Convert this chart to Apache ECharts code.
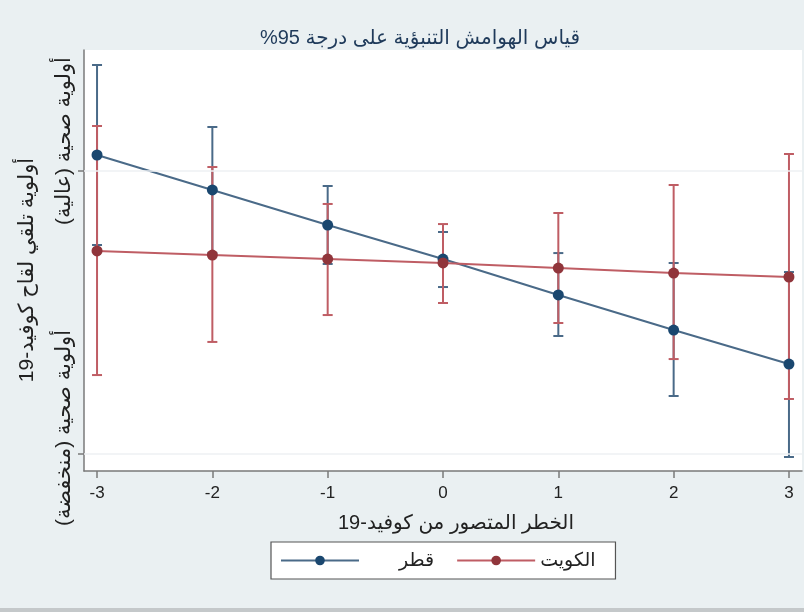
<!DOCTYPE html>
<html>
<head>
<meta charset="utf-8">
<script src="https://cdn.jsdelivr.net/npm/echarts@6/dist/echarts.min.js"></script>
<style>
  html, body { margin: 0; padding: 0; background: #eaf0f2; }
  #chart { width: 804px; height: 612px; }
</style>
</head>
<body>
<div id="chart"></div>
<script>
// الخطر المتصور من كوفيد-19
var riskLevels = [-3, -2, -1, 0, 1, 2, 3];
var xTicks = [-3, -2, -1, 0, 1, 2, 3];
var yTicks = [1, 3];

// قطر
var qatarMean = [3.113, 2.866, 2.618, 2.378, 2.124, 1.876, 1.636];
var qatarLow  = [2.477, 2.420, 2.343, 2.180, 1.834, 1.410, 0.979];
var qatarHigh = [3.749, 3.311, 2.894, 2.569, 2.420, 2.350, 2.286];

// الكويت
var kuwaitMean = [2.435, 2.406, 2.378, 2.350, 2.314, 2.279, 2.251];
var kuwaitLow  = [1.558, 1.792, 1.982, 2.067, 1.926, 1.671, 1.389];
var kuwaitHigh = [3.318, 3.028, 2.767, 2.625, 2.703, 2.901, 3.120];

var navy = '#1a476f', navyLine = '#4a6a88';
var maroon = '#90353b', maroonLine = '#bf5d64';
var font = 'Liberation Sans, DejaVu Sans, sans-serif';

function pairs(xs, ys) {
    return xs.map(function(x, i) { return [x, ys[i]]; });
}
function bars(xs, lo, hi) {
    return xs.map(function(x, i) { return [x, lo[i], hi[i]]; });
}
function errorBar(color) {
    return function(params, api) {
        var x = api.value(0);
        var p1 = api.coord([x, api.value(1)]);
        var p2 = api.coord([x, api.value(2)]);
        var w = 5;
        var st = {stroke: color, lineWidth: 2};
        return {
            type: 'group',
            children: [
                {type: 'line', shape: {x1: p1[0], y1: p1[1], x2: p2[0], y2: p2[1]}, style: st},
                {type: 'line', shape: {x1: p1[0] - w, y1: p1[1], x2: p1[0] + w, y2: p1[1]}, style: st},
                {type: 'line', shape: {x1: p2[0] - w, y1: p2[1], x2: p2[0] + w, y2: p2[1]}, style: st}
            ]
        };
    };
}

var myChart = echarts.init(document.getElementById('chart'));
myChart.setOption({
    backgroundColor: '#eaf0f2',
    animation: false,
    title: {
        // علامة RLM في النهاية حتى تظهر %95 في اليسار
        text: 'قياس الهوامش التنبؤية على درجة 95%\u200F',
        left: 415,
        textAlign: 'center',
        top: 23,
        textStyle: {fontFamily: font, fontSize: 20, fontWeight: 'normal', color: '#1f3a5a'}
    },
    grid: {
        left: 84, right: 2, top: 50, bottom: 141,
        show: true, backgroundColor: '#ffffff', borderWidth: 0
    },
    legend: {
        left: 271,
        top: 542,
        orient: 'horizontal',
        backgroundColor: '#ffffff',
        borderColor: '#555555',
        borderWidth: 1.2,
        borderRadius: 0,
        padding: [9, 20, 9, 9],
        itemWidth: 78,
        itemHeight: 12,
        itemGap: 22,
        textStyle: {fontFamily: font, fontSize: 19, color: '#222'},
        data: [
            {name: 'قطر', textStyle: {padding: [0, 0, 0, 35]}},
            {name: 'الكويت'}
        ]
    },
    xAxis: {
        type: 'value',
        min: -3.113,
        max: 3.113,
        name: 'الخطر المتصور من كوفيد-19',
        nameLocation: 'middle',
        nameGap: 42,
        nameTextStyle: {fontFamily: font, fontSize: 20, color: '#222', padding: [0, 0, 0, 26]},
        axisLine: {show: true, onZero: false, lineStyle: {color: '#7a7a7a', width: 1.5}},
        axisTick: {show: true, length: 7, customValues: xTicks, lineStyle: {color: '#7a7a7a', width: 1.5}},
        axisLabel: {customValues: xTicks, margin: 14, fontFamily: font, fontSize: 17, color: '#222'},
        splitLine: {show: false}
    },
    yAxis: {
        type: 'value',
        min: 0.88,
        max: 3.855,
        axisLine: {show: true, onZero: false, lineStyle: {color: '#7a7a7a', width: 1.5}},
        axisTick: {show: true, length: 6, customValues: yTicks, lineStyle: {color: '#7a7a7a', width: 1.5}},
        axisLabel: {show: false},
        splitLine: {show: false}
    },
    graphic: [
        {
            type: 'text', x: 27, y: 270, rotation: Math.PI / 2,
            style: {text: 'أولوية تلقي لقاح كوفيد-19', fontFamily: font, fontSize: 21, fill: '#222',
                    align: 'center', verticalAlign: 'middle'}
        },
        {
            type: 'text', x: 64, y: 141, rotation: Math.PI / 2,
            style: {text: 'أولوية صحية (عالية)', fontFamily: font, fontSize: 21, fill: '#222',
                    align: 'center', verticalAlign: 'middle'}
        },
        {
            type: 'text', x: 64, y: 428, rotation: Math.PI / 2,
            style: {text: 'أولوية صحية (منخفضة)', fontFamily: font, fontSize: 21, fill: '#222',
                    align: 'center', verticalAlign: 'middle'}
        },
        {
            type: 'rect', left: 0, top: 608, shape: {width: 804, height: 4},
            style: {fill: '#c4c8ca'}
        }
    ],
    series: [
        {
            name: 'قطر-ci',
            type: 'custom',
            renderItem: errorBar(navyLine),
            data: bars(riskLevels, qatarLow, qatarHigh),
            z: 2
        },
        {
            name: 'الكويت-ci',
            type: 'custom',
            renderItem: errorBar(maroonLine),
            data: bars(riskLevels, kuwaitLow, kuwaitHigh),
            z: 3,
            markLine: {
                silent: true,
                symbol: 'none',
                label: {show: false},
                lineStyle: {color: '#eef1f3', type: 'solid', width: 1.5},
                data: yTicks.map(function(v) { return {yAxis: v}; })
            }
        },
        {
            name: 'قطر',
            type: 'line',
            data: pairs(riskLevels, qatarMean),
            symbol: 'circle',
            symbolSize: 11,
            itemStyle: {color: navy},
            lineStyle: {color: navyLine, width: 2},
            z: 4
        },
        {
            name: 'الكويت',
            type: 'line',
            data: pairs(riskLevels, kuwaitMean),
            symbol: 'circle',
            symbolSize: 11,
            itemStyle: {color: maroon},
            lineStyle: {color: maroonLine, width: 2},
            z: 5
        }
    ]
});
</script>
</body>
</html>
